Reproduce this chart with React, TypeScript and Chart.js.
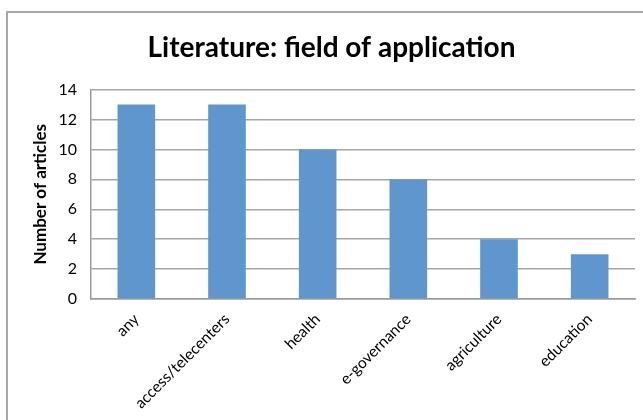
import React, { useEffect, useRef } from "react";
import { Chart, registerables } from "chart.js";

Chart.register(...registerables);

const fields = ["any", "access/telecenters", "health", "e-governance", "agriculture", "education"];
const articleCounts = [13, 13, 10, 8, 4, 3];
const yTicks = [0, 2, 4, 6, 8, 10, 12, 14];

const FONT = "Lato, 'Open Sans', sans-serif";

// Outer frame around the whole chart object
const framePlugin = {
  id: "frame",
  beforeDraw(chart: Chart) {
    const { ctx, width, height } = chart;
    ctx.save();
    ctx.fillStyle = "#ffffff";
    ctx.fillRect(0, 0, width, height);
    ctx.strokeStyle = "#a8a8a8";
    ctx.lineWidth = 2;
    ctx.strokeRect(7, 12, width + 20, height + 20);
    ctx.restore();
  },
};

export default function App() {
  const ref = useRef<HTMLCanvasElement>(null);

  useEffect(() => {
    if (!ref.current) return;
    const chart = new Chart(ref.current, {
      type: "bar",
      data: {
        labels: fields,
        datasets: [
          {
            label: "Number of articles",
            data: articleCounts,
            backgroundColor: "#6096CE",
            borderWidth: 0,
            categoryPercentage: 1,
            barPercentage: 0.415,
          },
        ],
      },
      options: {
        animation: false,
        responsive: false,
        layout: { padding: { left: 28, right: 8, top: 0, bottom: 0 } },
        plugins: {
          legend: { display: false },
          tooltip: { enabled: false },
          title: {
            display: true,
            text: "Literature: field of application",
            color: "#000000",
            font: { family: FONT, size: 28, weight: "bold", lineHeight: 1.2 },
            padding: { top: 31, bottom: 25 },
          },
        },
        scales: {
          x: {
            grid: { display: false, drawTicks: false },
            border: { color: "#9a9a9a", width: 1.5 },
            ticks: {
              color: "#000000",
              font: { family: FONT, size: 15.5 },
              minRotation: 45,
              maxRotation: 45,
              padding: 11,
              autoSkip: false,
            },
            afterFit(scale: any) {
              scale.height = 121;
            },
          },
          y: {
            min: 0,
            max: 14,
            afterBuildTicks(scale: any) {
              scale.ticks = yTicks.map((v) => ({ value: v }));
            },
            grid: { color: "#a6a6a6", lineWidth: 1.5, drawTicks: false },
            border: { color: "#9a9a9a", width: 1.5 },
            ticks: {
              color: "#000000",
              font: { family: FONT, size: 16 },
              padding: 14,
            },
            title: {
              display: true,
              text: "Number of articles",
              color: "#000000",
              font: { family: FONT, size: 17, weight: "bold" },
              padding: { top: 2, bottom: 0 },
            },
            afterFit(scale: any) {
              scale.width = 63;
            },
          },
        },
      },
      plugins: [framePlugin],
    });
    return () => chart.destroy();
  }, []);

  return (
    <div style={{ position: "fixed", left: 0, top: 0, width: 643, height: 420 }}>
      <canvas ref={ref} width={643} height={420} style={{ display: "block" }} />
    </div>
  );
}
